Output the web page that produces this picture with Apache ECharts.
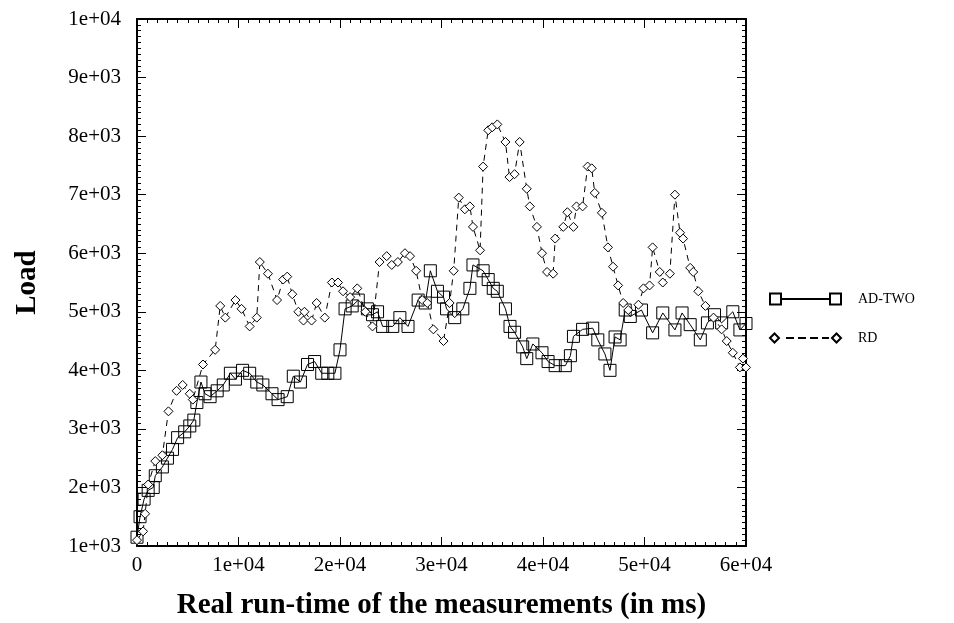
<!DOCTYPE html>
<html>
<head>
<meta charset="utf-8">
<script src="https://cdn.jsdelivr.net/npm/echarts@6/dist/echarts.min.js"></script>
<style>
html,body{margin:0;padding:0;background:#fff;}
#chart{width:954px;height:623px;}
</style>
</head>
<body>
<div id="chart"></div>
<script>
const seriesNames = ['AD-TWO', 'RD'];
const xTitle = 'Real run-time of the measurements (in ms)';
const yTitle = 'Load';

const adX = [0,300,700,1100,1600,1800,2500,3000,3500,4000,4700,5200,5600,5900,6300,6700,7200,7900,8500,9200,9700,10400,11100,11800,12400,13300,13900,14800,15400,16100,16800,17500,18200,18800,19500,20000,20500,21200,21800,22700,23200,23700,24200,25200,25900,26700,27700,28400,28900,29600,30200,30500,31300,32100,32800,33100,34100,34600,35100,35500,36300,36750,37200,38000,38400,39000,39900,40500,41200,42200,42700,43000,43900,44900,45400,46100,46600,47100,47600,48100,48600,49700,50800,51800,53000,53700,54500,55500,56200,56900,57600,58700,59400,60000];
const adY = [1150,1500,1800,1950,2000,2200,2350,2500,2650,2850,2950,3050,3150,3450,3800,3600,3550,3650,3750,3950,3850,4000,3950,3800,3750,3600,3500,3550,3900,3800,4100,4150,3950,3950,3950,4350,5050,5100,5200,5050,4950,5000,4750,4750,4900,4750,5200,5150,5700,5350,5250,5050,4900,5050,5400,5800,5700,5550,5400,5350,5050,4750,4650,4400,4200,4450,4300,4150,4080,4080,4250,4580,4700,4720,4520,4280,4000,4570,4520,5030,4920,5030,4640,4980,4690,4980,4780,4520,4810,4950,4810,5000,4690,4800];

const rdX = [0,600,800,1100,1800,2500,3100,3900,4500,5200,5500,6500,7700,8200,8700,9700,10300,11100,11800,12100,12900,13800,14400,14800,15300,15900,16400,16500,17200,17700,18500,19200,19800,20300,21000,21700,22500,23200,23900,24600,25100,25700,26400,26900,27500,28100,28600,29200,30200,30800,31200,31700,32300,32800,33100,33800,34100,34600,35000,35500,36300,36700,37200,37700,38400,38700,39400,39900,40400,41000,41200,42000,42400,43000,43300,43900,44400,44800,45100,45800,46400,46900,47400,47900,48400,49400,49900,50500,50800,51500,51800,52500,53000,53500,53800,54500,54800,55300,56000,56800,57600,58100,58700,59400,59700,60000];
const rdY = [1100,1250,1550,2050,2450,2550,3300,3650,3750,3600,3500,4100,4350,5100,4900,5200,5050,4750,4900,5850,5650,5200,5550,5600,5300,5000,4850,5000,4850,5150,4900,5500,5500,5350,5250,5400,5000,4750,5850,5950,5800,5850,6000,5950,5700,5200,5150,4700,4500,5150,5700,6950,6750,6800,6450,6050,7480,8100,8150,8200,7900,7300,7350,7900,7100,6800,6450,6000,5680,5650,6250,6450,6700,6450,6800,6800,7480,7450,7030,6690,6100,5770,5450,5150,5030,5120,5400,5450,6100,5680,5500,5650,7000,6350,6250,5750,5680,5350,5100,4900,4700,4500,4300,4050,4200,4050];

function zip(xs, ys){ return xs.map((x,i)=>[x, ys[i]]); }
function fmt(v){
  if (v === 0) return '0';
  const e = Math.floor(Math.log10(v) + 1e-9);
  const m = Math.round(v / Math.pow(10, e));
  return m + 'e+' + String(e).padStart(2, '0');
}

const FONT = 'Liberation Serif';
const axisLine = {show:true, onZero:false, lineStyle:{color:'#000', width:2}};
const tick = {show:true, inside:true, length:9, lineStyle:{color:'#000', width:1}};
const minor = {show:true, splitNumber:10, length:4, lineStyle:{color:'#000', width:1}};

const chart = echarts.init(document.getElementById('chart'), null, {renderer:'canvas'});
chart.setOption({
  animation:false,
  backgroundColor:'#fff',
  grid:{left:137, right:208, top:19, bottom:77, show:false, containLabel:false, outerBoundsMode:'none'},
  legend:{
    orient:'vertical', left:764, top:287, itemGap:25,
    itemWidth:71, itemHeight:11,
    textStyle:{fontFamily:FONT, fontSize:14, color:'#000', padding:[0,0,0,12]},
    data:[
      {name:'AD-TWO', icon:'path://M0,0H11V11H0Z M11,5.5H60V5.51H11Z M60,0H71V11H60Z'},
      {name:'RD', icon:'path://M0,5.5L4.5,1L9,5.5L4.5,10Z M17,5.5H23V5.51H17Z M29,5.5H35V5.51H29Z M41,5.5H47V5.51H41Z M53,5.5H58V5.51H53Z M62,5.5L66.5,1L71,5.5L66.5,10Z'}
    ]
  },
  xAxis:[
    {type:'value', min:0, max:60000, interval:10000, position:'bottom',
     axisLine, axisTick:tick, minorTick:minor, splitLine:{show:false},
     axisLabel:{formatter:fmt, fontFamily:FONT, fontSize:21, color:'#000', margin:9},
     name:xTitle, nameLocation:'middle', nameGap:45,
     nameTextStyle:{fontFamily:FONT, fontSize:29, fontWeight:'bold', color:'#000'}},
    {type:'value', min:0, max:60000, interval:10000, position:'top',
     axisLine, axisTick:tick, minorTick:minor, splitLine:{show:false}, axisLabel:{show:false}}
  ],
  yAxis:[
    {type:'value', min:1000, max:10000, interval:1000, position:'left',
     axisLine, axisTick:tick, minorTick:minor, splitLine:{show:false},
     axisLabel:{formatter:fmt, fontFamily:FONT, fontSize:21, color:'#000', margin:16},
     name:yTitle, nameLocation:'middle', nameGap:95, nameRotate:90,
     nameTextStyle:{fontFamily:FONT, fontSize:29, fontWeight:'bold', color:'#000'}},
    {type:'value', min:1000, max:10000, interval:1000, position:'right',
     axisLine, axisTick:tick, minorTick:minor, splitLine:{show:false}, axisLabel:{show:false}}
  ],
  series:[
    {name:seriesNames[0], type:'line', data:zip(adX, adY),
     symbol:'rect', symbolSize:12,
     itemStyle:{color:'rgba(255,255,255,0)', borderColor:'#000', borderWidth:1},
     lineStyle:{color:'#000', width:1}},
    {name:seriesNames[1], type:'line', data:zip(rdX, rdY),
     symbol:'diamond', symbolSize:9,
     itemStyle:{color:'#fff', borderColor:'#000', borderWidth:1},
     lineStyle:{color:'#000', width:1, type:[6,5]}}
  ]
});
</script>
</body>
</html>
